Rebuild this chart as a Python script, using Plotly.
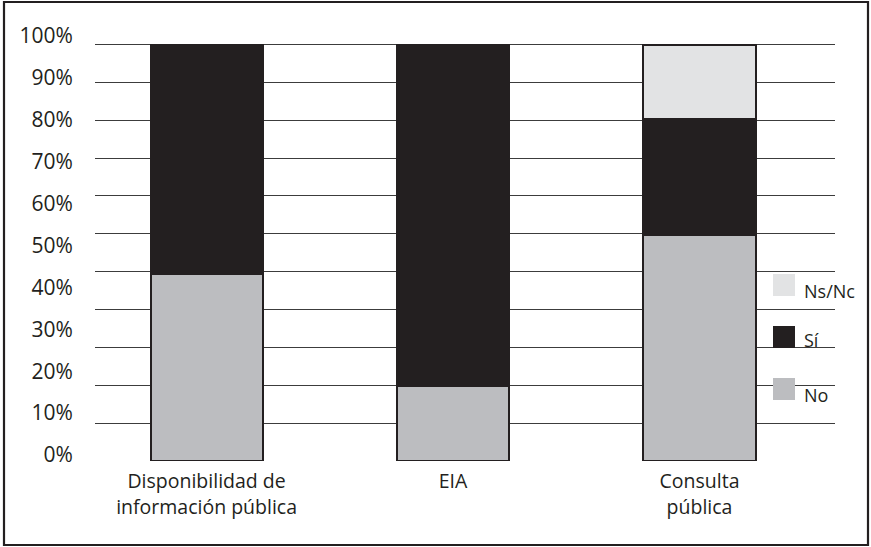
import plotly.graph_objects as go

categories = ["Disponibilidad de<br>información pública", "EIA", "Consulta<br>pública"]
no_vals = [44.8, 18.0, 54.2]
si_vals = [55.2, 82.0, 28.0]
nsnc_vals = [0.0, 0.0, 17.6]

series_names = ["No", "Sí", "Ns/Nc"]
series_colors = ["#bcbdc0", "#231f20", "#e2e3e4"]

grid_vals = [k * 100 / 11 for k in range(12)]
label_vals = list(range(0, 101, 10))
label_text = [f"{v}%" for v in label_vals]

W, H = 871, 547
L, R, T, B = 95, 36, 30, 86
FONT = "Open Sans"
INK = "#231f20"

fig = go.Figure()
for name, vals, col in zip(series_names, [no_vals, si_vals, nsnc_vals], series_colors):
    fig.add_trace(go.Bar(
        x=categories, y=vals, name=name, marker_color=col,
        marker_line_color=INK, marker_line_width=2.5,
        width=0.455, showlegend=False,
    ))

# invisible trace to activate the label axis
fig.add_trace(go.Scatter(x=[categories[0]], y=[0], yaxis="y2", mode="markers",
                         marker_opacity=0, showlegend=False, hoverinfo="skip"))

def py2paper(py):
    return (H - B - py) / (H - T - B)

def px2paper(px):
    return (px - L) / (W - L - R)

shapes = []
annotations = []
# legend
leg_items = [("Ns/Nc", series_colors[2], 274, 290.5), ("Sí", series_colors[1], 326, 340), ("No", series_colors[0], 378, 394.5)]
for text, col, top, tc in leg_items:
    shapes.append(dict(type="rect", xref="paper", yref="paper",
                       x0=px2paper(773), x1=px2paper(795),
                       y0=py2paper(top + 22), y1=py2paper(top),
                       fillcolor=col, line_width=0, layer="above"))
    annotations.append(dict(xref="paper", yref="paper", x=px2paper(802), y=py2paper(tc),
                            text=text, showarrow=False, xanchor="left", yanchor="middle",
                            font=dict(family=FONT, size=18, color=INK)))
# frame
shapes.append(dict(type="rect", xref="paper", yref="paper",
                   x0=px2paper(4), x1=px2paper(868), y0=py2paper(545), y1=py2paper(2),
                   line=dict(color="#231f20", width=2.2), fillcolor="rgba(0,0,0,0)"))

fig.update_layout(
    width=W, height=H,
    margin=dict(l=L, r=R, t=T, b=B, pad=0),
    barmode="stack", bargap=0,
    paper_bgcolor="white", plot_bgcolor="white",
    font=dict(family=FONT, size=19, color=INK),
    xaxis=dict(type="category", range=[-0.4527, 2.5497], showgrid=False, showline=False,
               zeroline=False, ticks="outside", ticklen=3, tickcolor="rgba(0,0,0,0)",
               tickfont=dict(family=FONT, size=19.5, color=INK)),
    yaxis=dict(range=[0, (H - B - T) / 4.165], tickvals=grid_vals, showticklabels=False,
               showgrid=True, gridcolor="#3c3c3c", gridwidth=1.3, zeroline=False,
               showline=False, ticks=""),
    yaxis2=dict(overlaying="y", side="left", range=[-6 / 4.19, (455 - T) / 4.19],
                tickvals=label_vals, ticktext=label_text, showgrid=False, zeroline=False,
                showline=False, ticks="outside", ticklen=17, tickcolor="rgba(0,0,0,0)",
                tickfont=dict(family=FONT, size=21, color=INK)),
    shapes=shapes, annotations=annotations,
)

fig.write_html("out.html")
